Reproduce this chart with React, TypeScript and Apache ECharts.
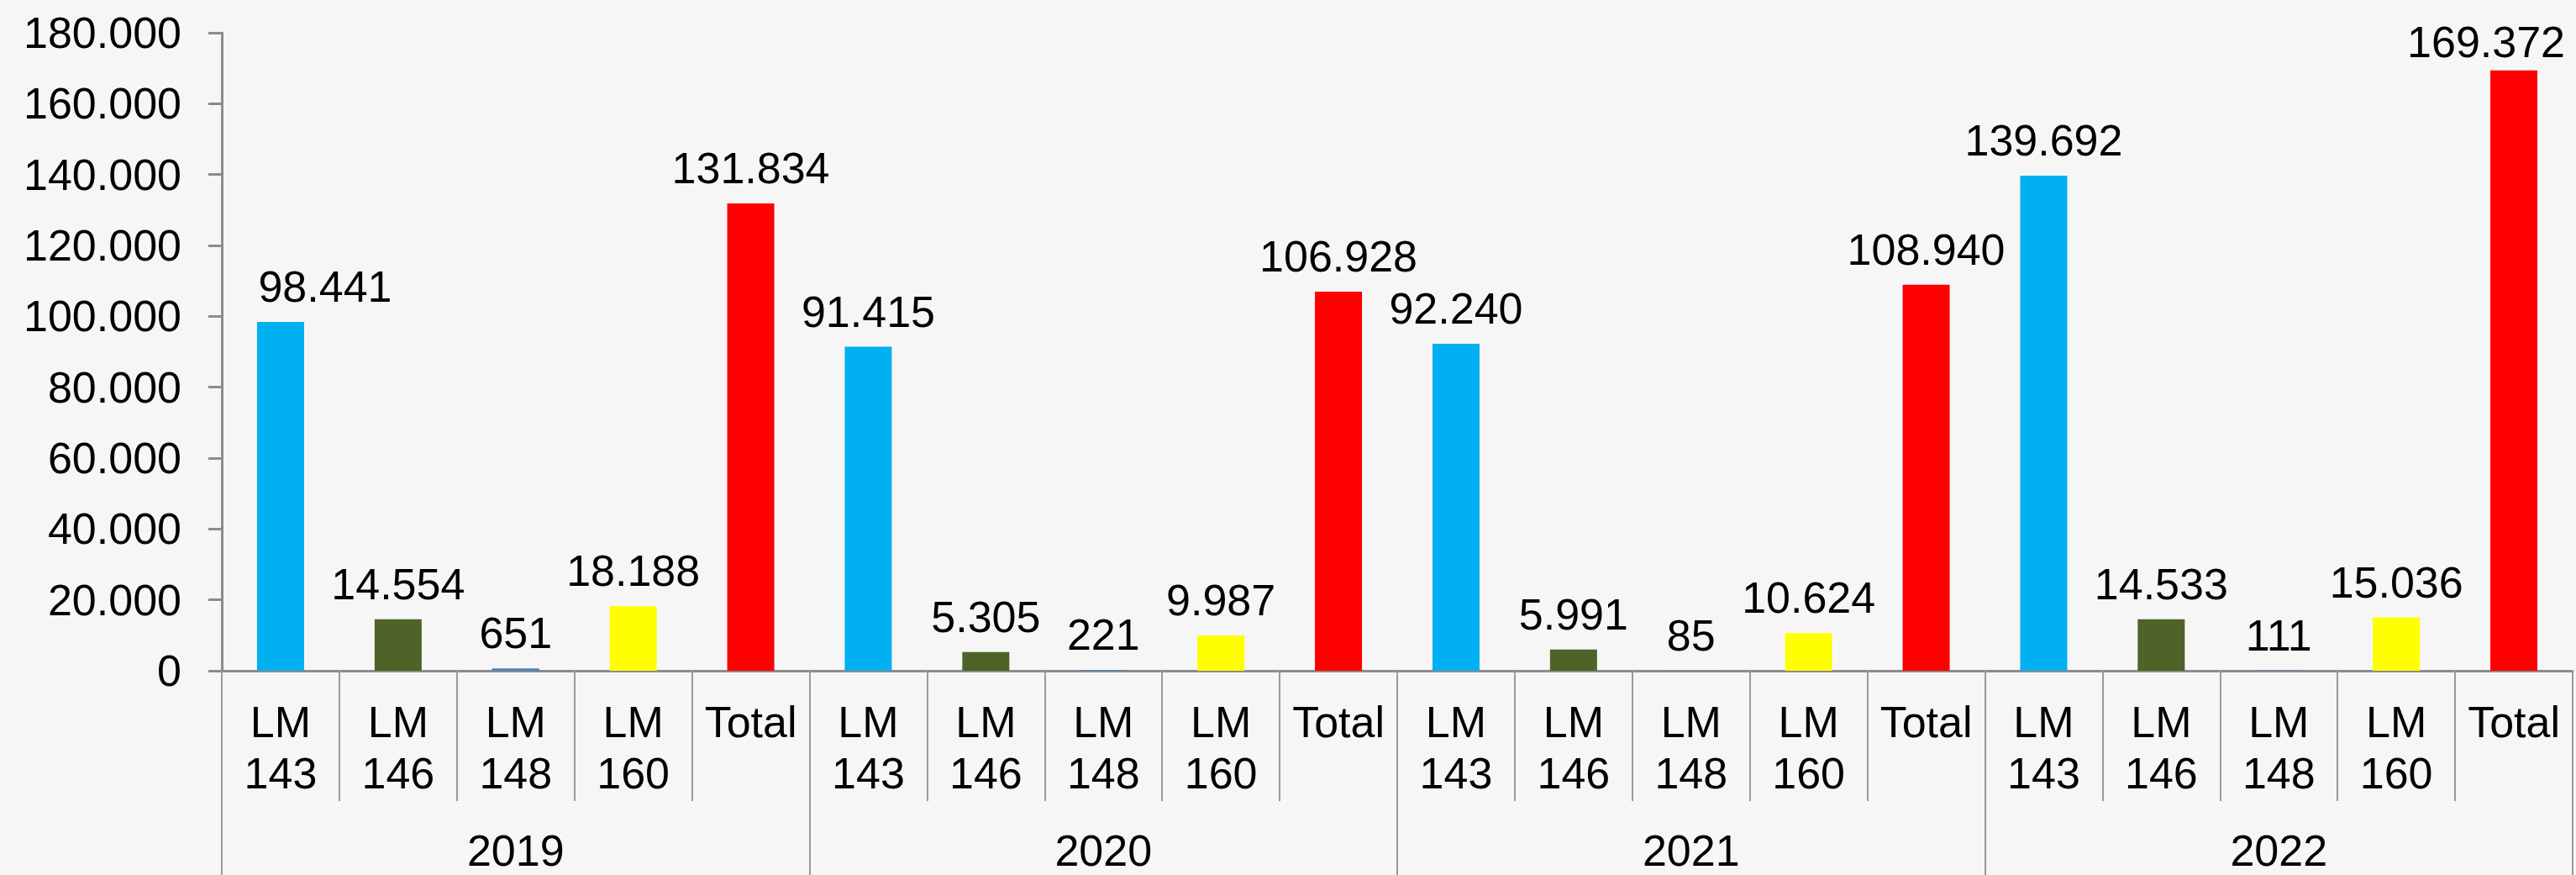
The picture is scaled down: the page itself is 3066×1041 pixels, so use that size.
import React, { useEffect, useRef } from "react";
import * as echarts from "echarts";

const years = ["2019", "2020", "2021", "2022"];
const items = ["LM\n143", "LM\n146", "LM\n148", "LM\n160", "Total"];
const lm143 = [98441, 91415, 92240, 139692];
const lm146 = [14554, 5305, 5991, 14533];
const lm148 = [651, 221, 85, 111];
const lm160 = [18188, 9987, 10624, 15036];
const total = [131834, 106928, 108940, 169372];
const itemColors = ["#00B0F0", "#4F6228", "#4A7EBB", "#FFFF00", "#FF0000"];

const fmt = (v: number) =>
  String(v).replace(/\B(?=(\d{3})+(?!\d))/g, ".");

export default function App() {
  const ref = useRef<HTMLDivElement>(null);
  useEffect(() => {
    if (!ref.current) return;
    const chart = echarts.init(ref.current, null, { renderer: "svg" });
    const seriesByItem = [lm143, lm146, lm148, lm160, total];
    const categories: string[] = [];
    const data: any[] = [];
    // label shifts that keep edge labels inside the plot (as in the reference)
    const labelShift: Record<number, number[]> = { 0: [53, 0], 19: [-33, 8] };
    years.forEach((_, yi) => {
      items.forEach((it, ii) => {
        const idx = categories.length;
        categories.push(it);
        const d: any = {
          value: seriesByItem[ii][yi],
          itemStyle: { color: itemColors[ii] },
        };
        if (labelShift[idx]) d.label = { offset: labelShift[idx] };
        data.push(d);
      });
    });
    const font = "'Liberation Sans', Arial, sans-serif";
    const axisColor = "#8c8c8c";
    chart.setOption({
      animation: false,
      backgroundColor: "#f6f6f7",
      grid: { left: 264, right: 4, top: 39, bottom: 243, containLabel: false },
      xAxis: [
        {
          type: "category",
          data: categories,
          position: "bottom",
          axisLine: { show: true, lineStyle: { color: axisColor, width: 3 } },
          axisTick: {
            show: true,
            interval: 0,
            length: 155,
            lineStyle: { color: "#9a9a9a", width: 2 },
          },
          axisLabel: {
            interval: 0,
            margin: 30,
            color: "#000",
            fontSize: 52,
            lineHeight: 61,
            fontFamily: font,
          },
        },
        {
          type: "category",
          data: years,
          position: "bottom",
          axisLine: { show: false },
          axisTick: {
            show: true,
            interval: 0,
            length: 250,
            lineStyle: { color: "#9a9a9a", width: 2 },
          },
          axisLabel: {
            interval: 0,
            margin: 188,
            color: "#000",
            fontSize: 52,
            fontFamily: font,
          },
        },
      ],
      yAxis: {
        type: "value",
        min: 0,
        max: 180000,
        interval: 20000,
        axisLine: { show: true, lineStyle: { color: axisColor, width: 3 } },
        axisTick: { show: true, length: 16, lineStyle: { color: axisColor, width: 3 } },
        splitLine: { show: false },
        axisLabel: {
          margin: 48,
          color: "#000",
          fontSize: 52,
          fontFamily: font,
          formatter: (v: number) => fmt(v),
        },
      },
      series: [
        {
          type: "bar",
          xAxisIndex: 0,
          data,
          barWidth: 56,
          label: {
            show: true,
            position: "top",
            distance: 16,
            color: "#000",
            fontSize: 52,
            fontFamily: font,
            formatter: (p: any) => fmt(p.value),
          },
        },
      ],
    });
    return () => chart.dispose();
  }, []);
  return (
    <div
      ref={ref}
      style={{ position: "absolute", left: 0, top: 0, width: 3066, height: 1041 }}
    />
  );
}
